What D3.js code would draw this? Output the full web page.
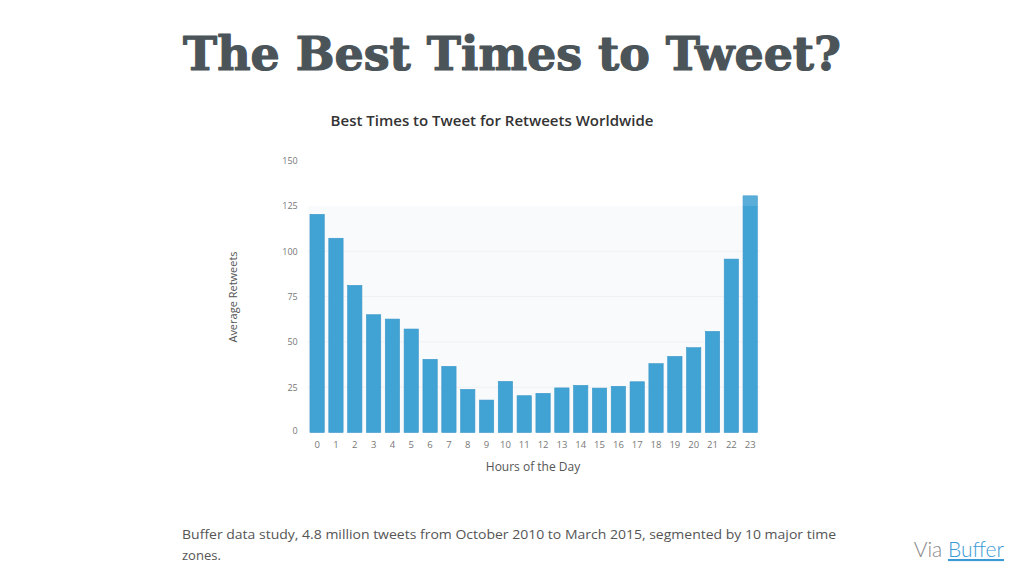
<!DOCTYPE html>
<html>
<head>
<meta charset="utf-8">
<script src="https://cdn.jsdelivr.net/npm/d3@7"></script>
<style>
  html, body { margin: 0; padding: 0; background: #fff; }
  svg { display: block; }
</style>
</head>
<body>
<svg id="chart" width="1024" height="576"></svg>
<script>
const hours = ["0","1","2","3","4","5","6","7","8","9","10","11","12","13","14","15","16","17","18","19","20","21","22","23"];
const retweets = [120.4, 107.2, 81.2, 65.0, 62.6, 57.1, 40.4, 36.5, 23.8, 17.9, 28.2, 20.3, 21.6, 24.6, 26.0, 24.5, 25.5, 28.0, 38.0, 42.0, 46.8, 55.8, 95.7, 130.6];
const yTicks = [0, 25, 50, 75, 100, 125, 150];
const gridTicks = [25, 50, 75, 100];

const mainTitle = "The Best Times to Tweet?";
const chartTitle = "Best Times to Tweet for Retweets Worldwide";
const yLabel = "Average Retweets";
const xLabel = "Hours of the Day";
const captionLines = ["Buffer data study, 4.8 million tweets from October 2010 to March 2015, segmented by 10 major time", "zones."];

const svg = d3.select("#chart");

// Main slide title
const mt = svg.append("text")
  .attr("x", 512).attr("y", 70)
  .attr("text-anchor", "middle")
  .attr("font-family", "'DejaVu Serif', serif")
  .attr("font-weight", "bold")
  .attr("font-size", 48)
  .attr("fill", "#4b5459")
  .attr("stroke", "#4b5459")
  .attr("stroke-width", 1.2)
  .attr("stroke-linejoin", "round")
  .text(mainTitle);
const mtw = mt.node().getComputedTextLength();
mt.attr("font-size", 48 * 658 / mtw);

// Chart title
svg.append("text")
  .attr("x", 492).attr("y", 126)
  .attr("text-anchor", "middle")
  .attr("font-family", "'Open Sans', sans-serif")
  .attr("font-weight", 600)
  .attr("font-size", 15)
  .attr("fill", "#333")
  .text(chartTitle);

const x = d3.scaleBand().domain(hours).range([307.7, 759.6]).paddingInner(0.24).paddingOuter(0.12);
const y = d3.scaleLinear().domain([0, 150]).range([432.5, 160.7]);

// plot area light background
svg.append("rect")
  .attr("x", x.range()[0]).attr("y", y(125))
  .attr("width", x.range()[1] - x.range()[0])
  .attr("height", y(0) - y(125))
  .attr("fill", "#f9fafc");

svg.append("g").selectAll("line").data(gridTicks).join("line")
  .attr("x1", x.range()[0]).attr("x2", x.range()[1])
  .attr("y1", d => y(d)).attr("y2", d => y(d))
  .attr("stroke", "#eef0f3").attr("stroke-width", 1);

// y axis
const yAxis = svg.append("g")
  .attr("transform", `translate(${x.range()[0] - 10},0)`)
  .call(d3.axisLeft(y).tickValues(yTicks).tickSize(0).tickPadding(0));
yAxis.select(".domain").remove();
yAxis.selectAll("text")
  .attr("font-family", "'Open Sans', sans-serif")
  .attr("font-size", 9)
  .attr("fill", "#777")
  .attr("dy", d => d === 0 ? "0.1em" : "0.32em");

// bars
svg.append("g").selectAll("rect").data(retweets).join("rect")
  .attr("x", (d, i) => x(hours[i]))
  .attr("y", d => y(d))
  .attr("width", x.bandwidth())
  .attr("height", d => y(0) - y(d))
  .attr("fill", "#41a2d4")
  .attr("stroke", "#3b97ca")
  .attr("stroke-width", 0.6);

// lighter cap on the tallest bar above the 125 band
const lastIdx = retweets.length - 1;
svg.append("rect")
  .attr("x", x(hours[lastIdx]))
  .attr("y", y(retweets[lastIdx]))
  .attr("width", x.bandwidth())
  .attr("height", Math.max(0, y(125) - y(retweets[lastIdx])))
  .attr("fill", "#ffffff").attr("opacity", 0.12);

// x axis
const xAxis = svg.append("g")
  .attr("transform", `translate(0,${y(0) + 9})`)
  .call(d3.axisBottom(x).tickSize(0).tickPadding(0));
xAxis.select(".domain").remove();
xAxis.selectAll("text")
  .attr("font-family", "'Open Sans', sans-serif")
  .attr("font-size", 9.5)
  .attr("fill", "#777");

// axis labels
svg.append("text")
  .attr("transform", "translate(237,297) rotate(-90)")
  .attr("text-anchor", "middle")
  .attr("font-family", "'Open Sans', sans-serif")
  .attr("font-size", 11)
  .attr("fill", "#555")
  .text(yLabel);

svg.append("text")
  .attr("x", 533).attr("y", 471)
  .attr("text-anchor", "middle")
  .attr("font-family", "'Open Sans', sans-serif")
  .attr("font-size", 12)
  .attr("fill", "#555")
  .text(xLabel);

// caption
const cap = svg.append("g");
captionLines.forEach((t, i) => {
  const el = cap.append("text")
    .attr("x", 182).attr("y", 539 + i * 21)
    .attr("font-family", "'Open Sans', sans-serif")
    .attr("font-size", 13)
    .attr("fill", "#555")
    .text(t);
  if (i === 0) {
    el.attr("textLength", 654).attr("lengthAdjust", "spacingAndGlyphs");
  }
});

// Via Buffer
const via = svg.append("text")
  .attr("x", 1004).attr("y", 557)
  .attr("text-anchor", "end")
  .attr("font-family", "Lato, sans-serif")
  .attr("font-weight", 300)
  .attr("font-size", 21);
via.append("tspan").attr("fill", "#888").text("Via ");
via.append("tspan").attr("fill", "#3b9ad6").attr("text-decoration", "underline").text("Buffer");
</script>
</body>
</html>
